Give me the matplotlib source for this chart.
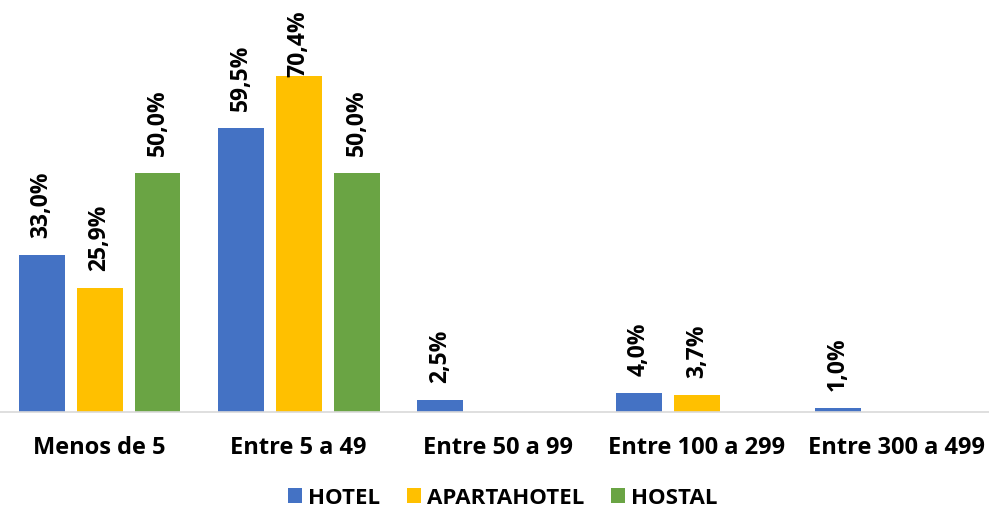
import matplotlib
matplotlib.use('Agg')
from matplotlib import pyplot as plt
from matplotlib.patches import Patch
import numpy as np

# tamaño del establecimiento por tipo de alojamiento
categorias = ['Menos de 5', 'Entre 5 a 49', 'Entre 50 a 99', 'Entre 100 a 299', 'Entre 300 a 499']
hotel = [33.0, 59.5, 2.5, 4.0, 1.0]
apartahotel = [25.9, 70.4, 0.0, 3.7, 0.0]
hostal = [50.0, 50.0, 0.0, 0.0, 0.0]

series = ['HOTEL', 'APARTAHOTEL', 'HOSTAL']
colors = ['#4472C4', '#FFC000', '#6AA444']

plt.rcParams['font.family'] = ['Open Sans', 'DejaVu Sans']
plt.rcParams['font.weight'] = 'bold'

fig = plt.figure(figsize=(9.89, 5.10), dpi=100)
ax = fig.add_axes([0.0, 0.1896, 1.0, 0.8104])

x = np.arange(len(categorias))
width = 0.231
step = 0.291

labels = []
for i, (vals, col) in enumerate(zip([hotel, apartahotel, hostal], colors)):
    pos = x + (i - 1) * step
    ax.bar(pos, vals, width=width, color=col, zorder=2)
    for p, v in zip(pos, vals):
        if v > 0:
            t = ax.annotate(f'{v:.1f}%'.replace('.', ','), xy=(p, v),
                            xytext=(0, 18), textcoords='offset pixels',
                            rotation=90, ha='center', va='bottom',
                            fontsize=16.5, fontweight='bold', color='black')
            labels.append(t)

ax.set_xlim(-0.5, 4.467)
ax.set_ylim(0, 86.45)
ax.set_xticks(x)
ax.set_xticklabels(categorias, fontsize=17, fontweight='bold')
ax.tick_params(axis='x', length=0, pad=16.5)
ax.set_yticks([])
for s in ['top', 'right', 'left']:
    ax.spines[s].set_visible(False)
ax.spines['bottom'].set_color('#D9D9D9')
ax.spines['bottom'].set_linewidth(1.2)

# etiquetas que se salen por arriba se bajan
fig.canvas.draw()
r = fig.canvas.get_renderer()
top_lim = fig.bbox.height - 10
for t in labels:
    bb = t.get_window_extent(r)
    if bb.y1 > top_lim:
        t.xyann = (0, 18 - (bb.y1 - top_lim))

handles = [Patch(facecolor=c, label=s) for s, c in zip(series, colors)]
fig.legend(handles=handles, loc='center', bbox_to_anchor=(0.508, 0.0216), ncol=3,
           frameon=False, fontsize=16, handlelength=0.63, handleheight=0.63,
           handletextpad=0.27, columnspacing=1.2, borderaxespad=0, borderpad=0)

fig.savefig('out.png', dpi=100)
